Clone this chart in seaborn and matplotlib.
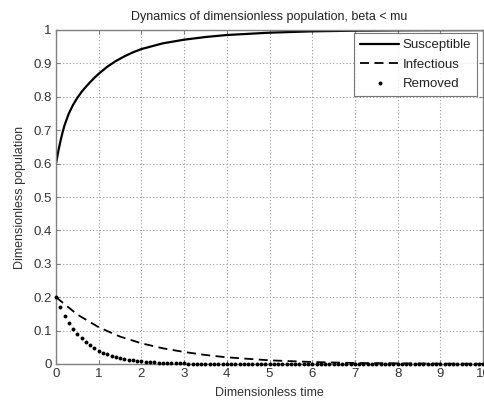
import matplotlib
matplotlib.use("Agg")
import matplotlib.pyplot as plt
import seaborn as sns
import pandas as pd

# --- data ---
t_s = [0.0, 0.05, 0.1, 0.15, 0.2, 0.3, 0.4, 0.5, 0.6, 0.7, 0.8, 0.9, 1.0, 1.2,
       1.4, 1.6, 1.8, 2.0, 2.5, 3.0, 3.5, 4.0, 5.0, 6.0, 7.0, 8.0, 9.0, 10.0]
susceptible = [0.600, 0.635, 0.665, 0.692, 0.715, 0.750, 0.776, 0.797, 0.815,
               0.830, 0.844, 0.857, 0.869, 0.890, 0.907, 0.921, 0.933, 0.943,
               0.960, 0.971, 0.979, 0.985, 0.992, 0.996, 0.998, 0.999, 0.9995,
               0.9997]

t_i = [0.0, 0.5, 1.0, 1.5, 2.0, 2.5, 3.0, 3.5, 4.0, 5.0, 6.0, 7.0, 8.0, 9.0, 10.0]
infectious = [0.200, 0.148, 0.110, 0.082, 0.062, 0.047, 0.036, 0.027, 0.020,
              0.011, 0.006, 0.003, 0.002, 0.001, 0.0005]

t_r = [0.0, 0.1, 0.2, 0.3, 0.4, 0.5, 0.6, 0.7, 0.8, 0.9,
       1.0, 1.1, 1.2, 1.3, 1.4, 1.5, 1.6, 1.7, 1.8, 1.9,
       2.0, 2.1, 2.2, 2.3, 2.4, 2.5, 2.6, 2.7, 2.8, 2.9,
       3.0, 3.1, 3.2, 3.3, 3.4, 3.5, 3.6, 3.7, 3.8, 3.9,
       4.0, 4.1, 4.2, 4.3, 4.4, 4.5, 4.6, 4.7, 4.8, 4.9,
       5.0, 5.1, 5.2, 5.3, 5.4, 5.5, 5.6, 5.7, 5.8, 5.9,
       6.0, 6.1, 6.2, 6.3, 6.4, 6.5, 6.6, 6.7, 6.8, 6.9,
       7.0, 7.1, 7.2, 7.3, 7.4, 7.5, 7.6, 7.7, 7.8, 7.9,
       8.0, 8.1, 8.2, 8.3, 8.4, 8.5, 8.6, 8.7, 8.8, 8.9,
       9.0, 9.1, 9.2, 9.3, 9.4, 9.5, 9.6, 9.7, 9.8, 9.9, 10.0]
removed = [0.200, 0.170, 0.145, 0.124, 0.105, 0.090, 0.077, 0.065, 0.056, 0.047,
           0.040, 0.034, 0.029, 0.025, 0.021, 0.018, 0.015, 0.013, 0.011, 0.0096,
           0.0082, 0.0070, 0.0060, 0.0050, 0.0043, 0.0037, 0.0031, 0.0027, 0.0023, 0.0020,
           0.0016, 0.0014, 0.0012, 0.0010, 0.0009, 0.0007, 0.0006, 0.0005, 0.0004, 0.0004,
           0.0003, 0.0003, 0.0002, 0.0002, 0.0002, 0.0001, 0.0001, 0.0001, 0.0001, 0.0001,
           0.0, 0.0, 0.0, 0.0, 0.0, 0.0, 0.0, 0.0, 0.0, 0.0,
           0.0, 0.0, 0.0, 0.0, 0.0, 0.0, 0.0, 0.0, 0.0, 0.0,
           0.0, 0.0, 0.0, 0.0, 0.0, 0.0, 0.0, 0.0, 0.0, 0.0,
           0.0, 0.0, 0.0, 0.0, 0.0, 0.0, 0.0, 0.0, 0.0, 0.0,
           0.0, 0.0, 0.0, 0.0, 0.0, 0.0, 0.0, 0.0, 0.0, 0.0, 0.0]

x_ticks = [0, 1, 2, 3, 4, 5, 6, 7, 8, 9, 10]
y_ticks = [0, 0.1, 0.2, 0.3, 0.4, 0.5, 0.6, 0.7, 0.8, 0.9, 1]
y_tick_labels = ["0", "0.1", "0.2", "0.3", "0.4", "0.5", "0.6", "0.7", "0.8", "0.9", "1"]

title = "Dynamics of dimensionless population, beta < mu"
xlabel = "Dimensionless time"
ylabel = "Dimensionless population"

# --- styling ---
sns.set_theme(style="white")
plt.rcParams["font.family"] = ["Liberation Sans", "DejaVu Sans"]
plt.rcParams["font.size"] = 9

df_s = pd.DataFrame({"t": t_s, "v": susceptible})
df_i = pd.DataFrame({"t": t_i, "v": infectious})
df_r = pd.DataFrame({"t": t_r, "v": removed})

fig = plt.figure(figsize=(4.85, 4.0), dpi=100)
ax = fig.add_axes([0.1155, 0.09, 0.8805, 0.835])

sns.lineplot(data=df_s, x="t", y="v", ax=ax, color="black", linewidth=1.6,
             label="Susceptible")
sns.lineplot(data=df_i, x="t", y="v", ax=ax, color="black", linewidth=1.3,
             linestyle=(0, (5, 3)), label="Infectious")
sns.lineplot(data=df_r, x="t", y="v", ax=ax, color="black", linestyle="none",
             marker="o", markersize=2.8, markeredgewidth=0, label="Removed",
             clip_on=False, zorder=5)

ax.set_xlim(0, 10)
ax.set_ylim(0, 1)
ax.set_xticks(x_ticks)
ax.set_xticklabels([str(v) for v in x_ticks])
ax.set_yticks(y_ticks)
ax.set_yticklabels(y_tick_labels)

ax.grid(True, color="#9a9a9a", linestyle=(0, (1, 2)), linewidth=0.8)
for sp in ax.spines.values():
    sp.set_color("#808080")
    sp.set_linewidth(1.0)
    sp.set_visible(True)
ax.tick_params(direction="in", length=3, width=0.8, color="#808080",
               labelsize=9.5, labelcolor="#333333", top=True, right=True,
               left=True, bottom=True, pad=3)

ax.set_title(title, fontsize=9, color="#222222", pad=7)
ax.set_xlabel(xlabel, fontsize=9, color="#333333", labelpad=5)
ax.set_ylabel(ylabel, fontsize=9, color="#333333", labelpad=5)

leg = ax.legend(loc="upper right", bbox_to_anchor=(0.986, 0.991),
                borderaxespad=0.0, fontsize=9.5, frameon=True, fancybox=False,
                handlelength=3.0, handletextpad=0.25, borderpad=0.45,
                labelspacing=0.55)
leg.get_frame().set_edgecolor("#555555")
leg.get_frame().set_linewidth(0.8)
leg.set_zorder(10)
for txt in leg.get_texts():
    txt.set_color("#222222")

fig.savefig("out.png", dpi=100)
